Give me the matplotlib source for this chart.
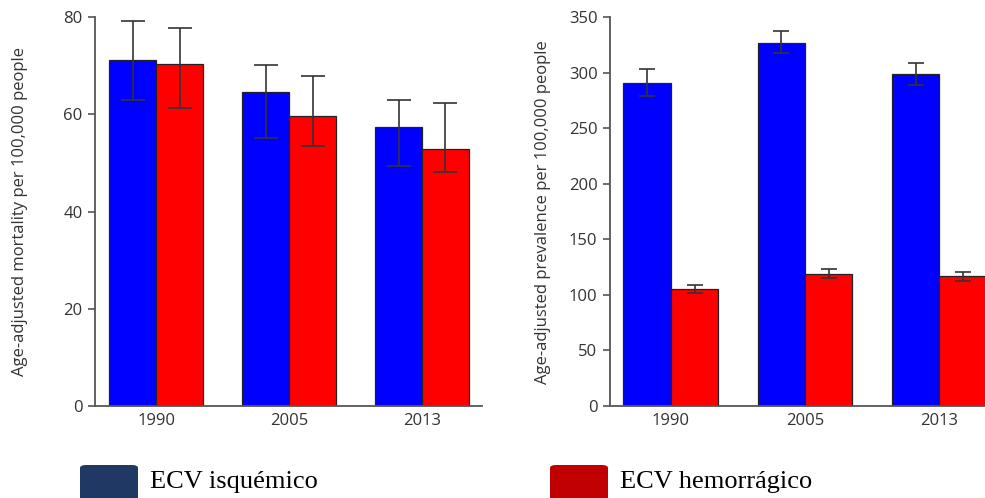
import matplotlib
matplotlib.use("Agg")
import matplotlib.pyplot as plt
import numpy as np
from matplotlib.patches import FancyBboxPatch

# dados
anos = ["1990", "2005", "2013"]

mort_isq = [71.3, 64.7, 57.4]
mort_isq_lo = [63.0, 55.1, 49.3]
mort_isq_hi = [79.3, 70.2, 63.0]
mort_hem = [70.4, 59.6, 52.9]
mort_hem_lo = [61.3, 53.5, 48.1]
mort_hem_hi = [77.8, 67.9, 62.3]

prev_isq = [291, 326.5, 299]
prev_isq_lo = [278.7, 318, 289.2]
prev_isq_hi = [303.6, 337.8, 309]
prev_hem = [105.3, 118.8, 117]
prev_hem_lo = [101.7, 115.5, 112.2]
prev_hem_hi = [108.9, 123.6, 120.3]

legenda = ["ECV isquémico", "ECV hemorrágico"]

plt.rcParams['font.family'] = ['Open Sans', 'DejaVu Sans']

fig = plt.figure(figsize=(9.85, 4.98), dpi=100)
ax1 = fig.add_axes([95/985, 1-406/498, 387/985, (406-17.3)/498])
ax2 = fig.add_axes([610/985, 1-406/498, 375/985, (406-17.3)/498])

x = np.arange(len(anos))
w = 0.353


def desenha(ax, v1, lo1, hi1, v2, lo2, hi2, ymax, yticks, ylabel, cap, xlim, labx):
    v1, v2 = np.array(v1), np.array(v2)
    err1 = [v1 - np.array(lo1), np.array(hi1) - v1]
    err2 = [v2 - np.array(lo2), np.array(hi2) - v2]
    ax.bar(x - w/2, v1, w, color="#0000ff", edgecolor="#222222", linewidth=0.9)
    ax.bar(x + w/2, v2, w, color="#ff0000", edgecolor="#222222", linewidth=0.9)
    ax.errorbar(x - w/2, v1, yerr=err1, fmt="none", ecolor="#333333",
                elinewidth=1.2, capsize=cap, capthick=1.2)
    ax.errorbar(x + w/2, v2, yerr=err2, fmt="none", ecolor="#333333",
                elinewidth=1.2, capsize=cap, capthick=1.2)
    ax.set_ylim(0, ymax)
    ax.set_xlim(*xlim)
    ax.set_yticks(yticks)
    ax.set_xticks(x)
    ax.set_xticklabels(anos)
    ax.set_ylabel(ylabel, fontsize=12, color="#333333")
    ax.yaxis.set_label_coords(labx, 0.5)
    ax.spines["top"].set_visible(False)
    ax.spines["right"].set_visible(False)
    for s in ["left", "bottom"]:
        ax.spines[s].set_color("#555555")
        ax.spines[s].set_linewidth(1.3)
    ax.tick_params(axis="y", length=5, width=1.2, color="#555555",
                   labelsize=12, labelcolor="#333333", pad=4)
    ax.tick_params(axis="x", length=0, labelsize=12, labelcolor="#333333", pad=5)


desenha(ax1, mort_isq, mort_isq_lo, mort_isq_hi, mort_hem, mort_hem_lo, mort_hem_hi,
        80, [0, 20, 40, 60, 80], "Age-adjusted mortality per 100,000 people", 8.5,
        (-0.459, 2.451), -0.173)
desenha(ax2, prev_isq, prev_isq_lo, prev_isq_hi, prev_hem, prev_hem_lo, prev_hem_hi,
        350, [0, 50, 100, 150, 200, 250, 300, 350],
        "Age-adjusted prevalence per 100,000 people", 5.5, (-0.453, 2.34), -0.157)

# legenda embaixo
cores_leg = ["#203864", "#c00000"]
xs_leg = [80, 550]
for cor, x0, txt in zip(cores_leg, xs_leg, legenda):
    p = FancyBboxPatch((x0/985, 1-505/498), 58/985, 40/498,
                       boxstyle="round,pad=0,rounding_size=0.006",
                       transform=fig.transFigure, facecolor=cor, edgecolor="none")
    fig.patches.append(p)
    fig.text((x0 + 70)/985, 1-482/498, txt, fontsize=19, va="center", ha="left",
             family=["Liberation Serif", "DejaVu Serif"], color="black")

fig.savefig("out.png", dpi=100)
